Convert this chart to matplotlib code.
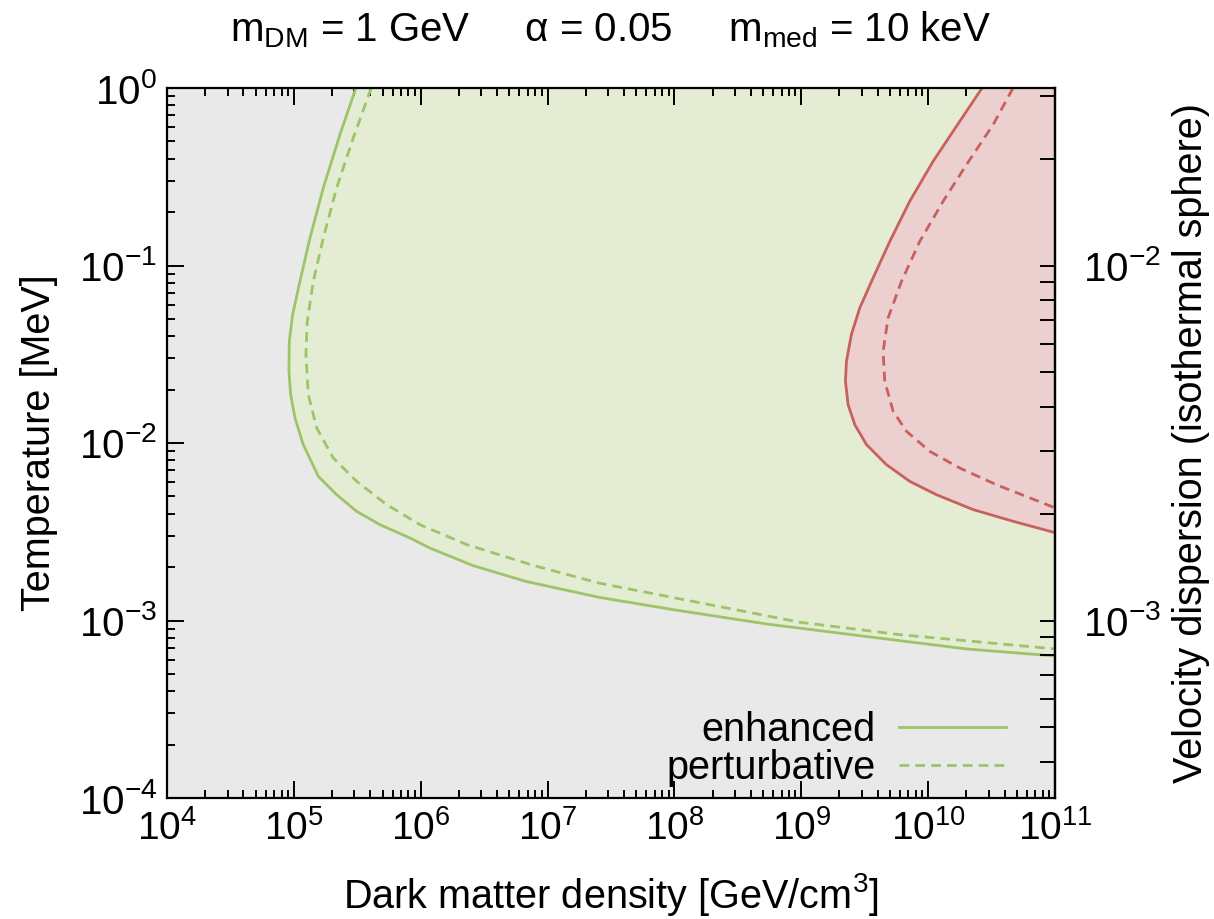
import numpy as np
import matplotlib
matplotlib.use("Agg")
import matplotlib.pyplot as plt
from matplotlib.ticker import LogLocator, FixedLocator, NullFormatter, FuncFormatter

plt.rcParams['font.family'] = ['Liberation Sans', 'DejaVu Sans']
plt.rcParams['mathtext.fontset'] = 'custom'
plt.rcParams['mathtext.rm'] = 'Liberation Sans'
plt.rcParams['mathtext.it'] = 'Liberation Sans:italic'
plt.rcParams['mathtext.sf'] = 'Liberation Sans'

# ---- data (log10 values) ----
M_DM_MEV = 1000.0

enh_green_logrho = [5.489, 5.363, 5.232, 5.127, 5.048, 4.990, 4.964, 4.961, 4.975, 5.009, 5.074,
                    5.193, 5.337, 5.495, 5.678, 5.915, 6.073, 6.41, 6.83, 7.41, 8.00, 8.73,
                    9.51, 10.30, 11.0]
enh_green_logT = [0.0, -0.263, -0.563, -0.845, -1.089, -1.277, -1.427, -1.596, -1.728, -1.859, -2.009,
                  -2.188, -2.291, -2.385, -2.460, -2.535, -2.592, -2.69, -2.78, -2.87, -2.94, -3.02,
                  -3.09, -3.16, -3.20]

pert_green_logrho = [5.61, 5.468, 5.337, 5.232, 5.153, 5.106, 5.095, 5.114, 5.180, 5.310, 5.495,
                     5.731, 5.994, 6.362, 6.89, 7.41, 8.20, 8.99, 9.78, 11.0]
pert_green_logT = [0.0, -0.282, -0.563, -0.845, -1.089, -1.314, -1.502, -1.728, -1.915, -2.084, -2.216,
                   -2.347, -2.460, -2.572, -2.69, -2.79, -2.90, -3.01, -3.08, -3.16]

enh_red_logrho = [10.425, 10.249, 10.039, 9.855, 9.698, 9.566, 9.461, 9.395, 9.356, 9.348, 9.369,
                  9.422, 9.514, 9.671, 9.855, 10.065, 10.354, 10.669, 11.0]
enh_red_logT = [0.0, -0.188, -0.413, -0.638, -0.864, -1.070, -1.239, -1.389, -1.540, -1.652, -1.784,
                -1.897, -2.009, -2.122, -2.216, -2.291, -2.375, -2.441, -2.505]

pert_red_logrho = [10.669, 10.512, 10.302, 10.118, 9.934, 9.790, 9.684, 9.645, 9.658, 9.724, 9.829,
                   10.013, 10.249, 10.538, 11.0]
pert_red_logT = [0.0, -0.207, -0.432, -0.638, -0.864, -1.089, -1.296, -1.484, -1.652, -1.821, -1.934,
                 -2.047, -2.141, -2.235, -2.365]

x_ticks = [1e4, 1e5, 1e6, 1e7, 1e8, 1e9, 1e10, 1e11]
y_ticks = [1e-4, 1e-3, 1e-2, 1e-1, 1e0]
sig_ticks = [1e-3, 1e-2]

legend_labels = ['enhanced', 'perturbative']

# ---- style ----
C_BG = '#e9e9e9'
C_GFILL = '#e4edd4'
C_RFILL = '#ecd0d0'
C_GLINE = '#9dc46a'
C_RLINE = '#c9605e'

fig = plt.figure(figsize=(12.14, 9.19), dpi=100)
ax = fig.add_axes([167/1214, 1 - 798/919, (1055-167)/1214, (798-88)/919])
ax.set_xscale('log')
ax.set_yscale('log')
ax.set_xlim(1e4, 1e11)
ax.set_ylim(1e-4, 1e0)
ax.set_facecolor(C_BG)

def tolin(l):
    return 10.0 ** np.asarray(l, dtype=float)

XMAX, YMAX = 1e11, 1e0

# fills
gx = np.append(tolin(enh_green_logrho), [XMAX])
gy = np.append(tolin(enh_green_logT), [YMAX])
ax.fill(gx, gy, color=C_GFILL, lw=0, zorder=1)
rx = np.append(tolin(enh_red_logrho), [XMAX])
ry = np.append(tolin(enh_red_logT), [YMAX])
ax.fill(rx, ry, color=C_RFILL, lw=0, zorder=2)

lw = 2.0
dash = (0, (3.5, 2.2))
ax.plot(tolin(enh_green_logrho), tolin(enh_green_logT), color=C_GLINE, lw=lw, zorder=4,
        label=legend_labels[0], solid_joinstyle='round')
ax.plot(tolin(pert_green_logrho), tolin(pert_green_logT), color=C_GLINE, lw=lw, zorder=4,
        ls=dash, label=legend_labels[1])
ax.plot(tolin(enh_red_logrho), tolin(enh_red_logT), color=C_RLINE, lw=lw, zorder=4,
        solid_joinstyle='round')
ax.plot(tolin(pert_red_logrho), tolin(pert_red_logT), color=C_RLINE, lw=lw, zorder=4, ls=dash)

for s in ax.spines.values():
    s.set_linewidth(1.6)
    s.set_zorder(6)

def powfmt(v, pos):
    e = int(round(np.log10(v)))
    return r'$\mathregular{10^{%d}}$' % e

ax.xaxis.set_major_locator(FixedLocator(x_ticks))
ax.yaxis.set_major_locator(FixedLocator(y_ticks))
ax.xaxis.set_major_formatter(FuncFormatter(powfmt))
ax.yaxis.set_major_formatter(FuncFormatter(powfmt))
ax.xaxis.set_minor_locator(LogLocator(base=10, subs=np.arange(2, 10), numticks=100))
ax.yaxis.set_minor_locator(LogLocator(base=10, subs=np.arange(2, 10), numticks=100))
ax.xaxis.set_minor_formatter(NullFormatter())
ax.yaxis.set_minor_formatter(NullFormatter())
ax.tick_params(which='both', direction='in', top=True, right=False, width=1.4)
ax.tick_params(which='major', length=12)
ax.tick_params(which='minor', length=6)
ax.tick_params(axis='x', pad=9, labelsize=28)
ax.tick_params(axis='y', pad=7, labelsize=29)

sec = ax.secondary_yaxis('right', functions=(lambda T: np.sqrt(np.clip(T, 1e-30, None) / M_DM_MEV),
                                              lambda s: M_DM_MEV * s ** 2))
sec.set_zorder(10)
sec.yaxis.set_major_locator(FixedLocator(sig_ticks))
sec.yaxis.set_major_formatter(FuncFormatter(powfmt))
sec.yaxis.set_minor_locator(LogLocator(base=10, subs=np.arange(2, 10), numticks=100))
sec.yaxis.set_minor_formatter(NullFormatter())
sec.tick_params(which='both', direction='in', length=11, width=1.4, labelsize=29, pad=20)
sec.spines['right'].set_linewidth(1.6)
sec.set_ylabel('Velocity dispersion (isothermal sphere)', fontsize=28.5, labelpad=8)

ax.set_xlabel(r'Dark matter density [GeV/cm$\mathregular{^3}$]', fontsize=28.5, labelpad=16)
ax.set_ylabel('Temperature [MeV]', fontsize=28.5)
ax.yaxis.set_label_coords(-0.1227, 0.5)

fig.text(0.5025, 1 - 30/919,
         r'm$_\mathregular{DM}$ = 1 GeV     $\mathregular{\alpha}$ = 0.05     m$_\mathregular{med}$ = 10 keV',
         ha='center', va='center', fontsize=29)

leg = ax.legend(loc='lower right', bbox_to_anchor=((1006-167)/888, 0.015), frameon=False,
                markerfirst=False, fontsize=28.5, handlelength=2.7, handletextpad=0.6,
                labelspacing=0.02, borderpad=0, borderaxespad=0)
leg.set_zorder(7)

fig.savefig('out.png', dpi=100)
